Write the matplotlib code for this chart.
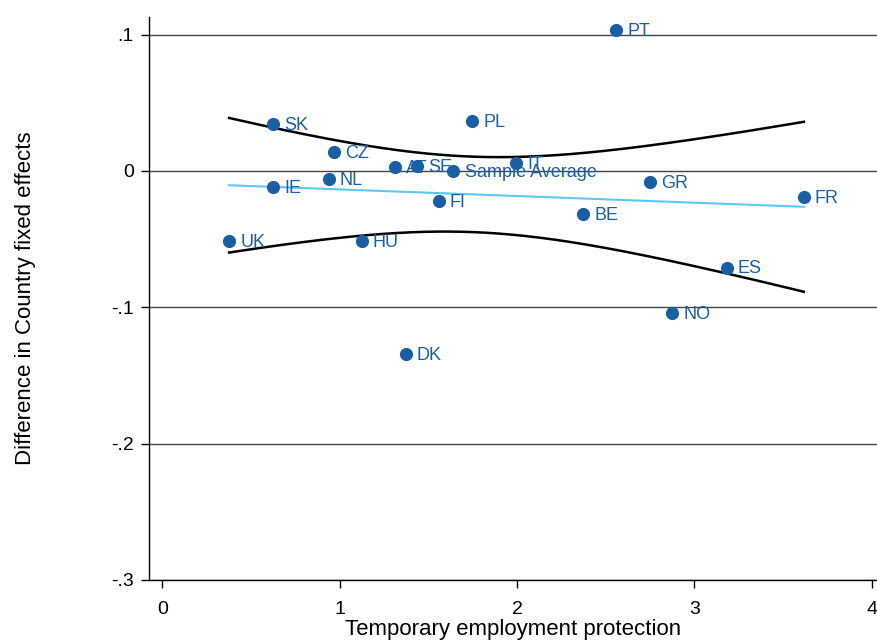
import numpy as np
import matplotlib
matplotlib.use("Agg")
import matplotlib.pyplot as plt

plt.rcParams['font.family'] = ['Liberation Sans', 'DejaVu Sans']

# data
countries = ['PT', 'SK', 'PL', 'CZ', 'AT', 'SE', 'IT', 'NL', 'IE', 'GR',
             'FR', 'FI', 'BE', 'UK', 'HU', 'ES', 'NO', 'DK']
temp_epl = [2.559, 0.624, 1.747, 0.967, 1.310, 1.434, 1.997, 0.939, 0.624, 2.750,
            3.617, 1.558, 2.373, 0.377, 1.125, 3.183, 2.874, 1.372]
fe_diff = [0.1034, 0.0342, 0.0369, 0.0142, 0.0032, 0.0039, 0.0061, -0.0059, -0.0117, -0.0081,
           -0.0191, -0.0220, -0.0316, -0.0512, -0.0514, -0.0708, -0.1044, -0.1340]
avg_label = 'Sample Average'
avg_x = 1.642
avg_y = 0.0

dot_color = '#1a5fa3'
fit_color = '#5bc8f5'

x = np.array(temp_epl)
y = np.array(fe_diff)

# linear fit with 95% CI of the mean (like Stata lfitci)
n = len(x)
b1, b0 = np.polyfit(x, y, 1)
resid = y - (b0 + b1 * x)
s = np.sqrt(np.sum(resid ** 2) / (n - 2))
t_crit = 2.120  # t(0.975, 16)
xs = np.linspace(x.min(), x.max(), 200)
fit = b0 + b1 * xs
se = s * np.sqrt(1.0 / n + (xs - x.mean()) ** 2 / np.sum((x - x.mean()) ** 2))
upper = fit + t_crit * se
lower = fit - t_crit * se

fig = plt.figure(figsize=(8.78, 6.42), dpi=100)
ax = fig.add_axes([0.170, 0.0966, 0.829, 0.877])

for yv in [-0.3, -0.2, -0.1, 0.0, 0.1]:
    ax.axhline(yv, color='#444444', lw=1.0, zorder=0)

ax.plot(xs, upper, color='black', lw=1.8, zorder=2)
ax.plot(xs, lower, color='black', lw=1.8, zorder=2)
ax.plot(xs, fit, color=fit_color, lw=1.5, zorder=2)

ax.scatter(x, y, s=90, color=dot_color, zorder=3, linewidths=0)
ax.scatter([avg_x], [avg_y], s=90, color=dot_color, zorder=3, linewidths=0)
for c, xi, yi in zip(countries, temp_epl, fe_diff):
    ax.annotate(c, (xi, yi), xytext=(8, -1), textcoords='offset points',
                va='center', ha='left', fontsize=13, color=dot_color, zorder=4)
ax.annotate(avg_label, (avg_x, avg_y), xytext=(8, -1), textcoords='offset points',
            va='center', ha='left', fontsize=13, color=dot_color, zorder=4)

ax.set_xlim(-0.073, 4.03)
ax.set_ylim(-0.3, 0.113)
ax.set_xticks([0, 1, 2, 3, 4])
ax.set_xticklabels(['0', '1', '2', '3', '4'])
ax.set_yticks([-0.3, -0.2, -0.1, 0.0, 0.1])
ax.set_yticklabels(['-.3', '-.2', '-.1', '0', '.1'])
ax.tick_params(axis='both', labelsize=14, direction='out', length=6, width=1, colors='black')
ax.tick_params(axis='x', pad=9)
ax.tick_params(axis='y', pad=5)

ax.spines['top'].set_visible(False)
ax.spines['right'].set_visible(False)
ax.spines['left'].set_linewidth(1.0)
ax.spines['bottom'].set_linewidth(1.0)

ax.set_xlabel('Temporary employment protection', fontsize=16, labelpad=1)
ax.set_ylabel('Difference in Country fixed effects', fontsize=16, labelpad=54)

fig.savefig('out.png', dpi=100)
